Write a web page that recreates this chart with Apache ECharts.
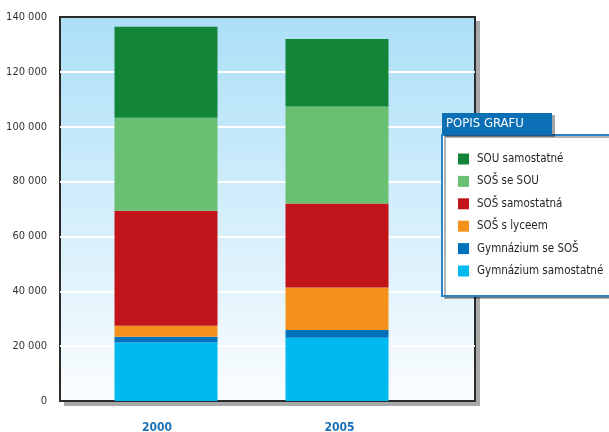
<!DOCTYPE html>
<html>
<head>
<meta charset="utf-8">
<script src="https://cdn.jsdelivr.net/npm/echarts@6/dist/echarts.min.js"></script>
<style>
  html, body { margin: 0; padding: 0; background: #ffffff; }
  #chart { width: 609px; height: 432px; }
</style>
</head>
<body>
<div id="chart"></div>
<script>
// Years on the category axis
const years = ['2000', '2005'];

// Pupil counts per school type (stacked from the bottom up)
const gymSamostatne = [21300, 23100];
const gymSeSOS = [2100, 2800];
const sosSLyceem = [4000, 15450];
const sosSamostatna = [42000, 30650];
const sosSeSOU = [33900, 35400];
const souSamostatne = [33100, 24600];

// Value axis range and step
const yMin = 0;
const yMax = 140000;
const yStep = 20000;

// Legend listing, top row first
const legendOrder = ['SOU samostatné', 'SOŠ se SOU', 'SOŠ samostatná', 'SOŠ s lyceem', 'Gymnázium se SOŠ', 'Gymnázium samostatné'];

const FONT = "'Liberation Sans Narrow', 'DejaVu Sans Condensed', 'Roboto', sans-serif";

const chart = echarts.init(document.getElementById('chart'), null, { renderer: 'canvas' });

function fmtThousands(v) {
  return String(v).replace(/\B(?=(\d{3})+(?!\d))/g, ' ');
}

function barSeries(name, data, color) {
  return {
    name: name,
    type: 'bar',
    stack: 'total',
    xAxisIndex: 1,
    yAxisIndex: 1,
    barWidth: 103,
    data: data,
    itemStyle: { color: color },
    emphasis: { disabled: true }
  };
}

const option = {
  animation: false,
  title: {
    text: 'POPIS GRAFU',
    left: 442,
    top: 113,
    padding: [4, 6, 4, 4],
    backgroundColor: '#0b6fb6',
    shadowColor: 'rgba(0,0,0,0.35)',
    shadowOffsetX: 3,
    shadowOffsetY: 2,
    shadowBlur: 0,
    textStyle: {
      color: '#ffffff',
      fontFamily: FONT,
      fontSize: 13,
      fontWeight: 'normal',
      width: 100,
      lineHeight: 14
    }
  },
  legend: {
    data: legendOrder,
    orient: 'vertical',
    left: 442,
    top: 135,
    padding: [18, 70, 19, 16],
    itemWidth: 11,
    itemHeight: 11,
    itemGap: 10.4,
    icon: 'rect',
    backgroundColor: '#ffffff',
    borderColor: '#2a84c6',
    borderWidth: 2,
    shadowColor: 'rgba(0,0,0,0.3)',
    shadowOffsetX: 3,
    shadowOffsetY: 2,
    shadowBlur: 0,
    selectedMode: false,
    textStyle: {
      color: '#231f20',
      fontFamily: FONT,
      fontSize: 11.5,
      lineHeight: 12,
      padding: [0, 0, 0, 3]
    }
  },
  grid: [
    {
      // plot frame with the gradient backdrop
      left: 60,
      right: 134,
      top: 17,
      bottom: 31,
      show: true,
      z: 0,
      outerBoundsMode: 'none',
      backgroundColor: new echarts.graphic.LinearGradient(0, 0, 0, 1, [
        { offset: 0, color: '#abdff7' },
        { offset: 1, color: '#fbfdff' }
      ]),
      borderColor: '#2b2b2b',
      borderWidth: 2
    },
    {
      // area holding the two bars
      left: 80.5,
      right: 186.5,
      top: 17,
      bottom: 31,
      outerBoundsMode: 'none'
    },
    {
      // drop shadow behind the frame
      left: 64,
      right: 129,
      top: 21,
      bottom: 26,
      show: true,
      z: -1,
      outerBoundsMode: 'none',
      backgroundColor: '#a9a9a9',
      borderWidth: 0
    }
  ],
  xAxis: [
    {
      gridIndex: 0,
      type: 'category',
      data: years,
      show: false
    },
    {
      gridIndex: 1,
      type: 'category',
      data: years,
      axisLine: { show: false },
      axisTick: { show: false },
      axisLabel: {
        margin: 21,
        formatter: function (v, i) { return i === 0 ? '{a|' + v + '}' : '{b|' + v + '}'; },
        rich: {
          a: { color: '#1b6fb4', fontWeight: 'bold', fontSize: 12, fontFamily: FONT, padding: [0, 18, 0, 0] },
          b: { color: '#1b6fb4', fontWeight: 'bold', fontSize: 12, fontFamily: FONT, padding: [0, 0, 0, 5] }
        }
      }
    },
    {
      gridIndex: 2,
      type: 'category',
      data: years,
      show: false
    }
  ],
  yAxis: [
    {
      gridIndex: 0,
      type: 'value',
      min: yMin,
      max: yMax,
      interval: yStep,
      axisLine: { show: false },
      axisTick: { show: false },
      axisLabel: {
        margin: 13,
        color: '#333333',
        fontFamily: FONT,
        fontSize: 11,
        formatter: fmtThousands
      },
      splitLine: {
        show: true,
        showMinLine: false,
        showMaxLine: false,
        lineStyle: { color: '#ffffff', width: 2 }
      }
    },
    {
      gridIndex: 1,
      type: 'value',
      min: yMin,
      max: yMax,
      interval: yStep,
      show: false,
      splitLine: { show: false }
    },
    {
      gridIndex: 2,
      type: 'value',
      show: false,
      splitLine: { show: false }
    }
  ],
  series: [
    barSeries('Gymnázium samostatné', gymSamostatne, '#00b9ef'),
    barSeries('Gymnázium se SOŠ', gymSeSOS, '#0072bb'),
    barSeries('SOŠ s lyceem', sosSLyceem, '#f5921e'),
    barSeries('SOŠ samostatná', sosSamostatna, '#c1141b'),
    barSeries('SOŠ se SOU', sosSeSOU, '#6ac072'),
    barSeries('SOU samostatné', souSamostatne, '#128538')
  ]
};

chart.setOption(option);
</script>
</body>
</html>
